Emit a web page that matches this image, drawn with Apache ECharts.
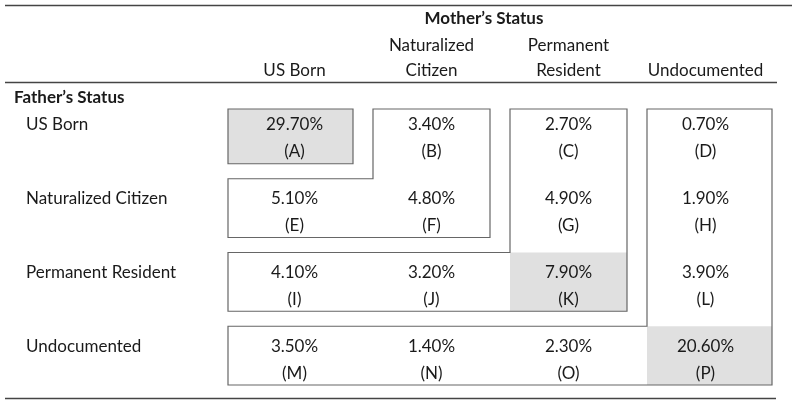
<!DOCTYPE html>
<html><head><meta charset="utf-8">
<script src="https://cdn.jsdelivr.net/npm/echarts@6/dist/echarts.min.js"></script>
<style>html,body{margin:0;padding:0;background:#fff}#c{width:800px;height:404px}</style>
</head><body><div id="c"></div>
<script>
// ---- data ----
const motherStatus = ['US Born', 'Naturalized\nCitizen', 'Permanent\nResident', 'Undocumented'];
const fatherStatus = ['US Born', 'Naturalized Citizen', 'Permanent Resident', 'Undocumented'];
const fatherUSBorn       = [29.7, 3.4, 2.7, 0.7];
const fatherNaturalized  = [5.1, 4.8, 4.9, 1.9];
const fatherPermanent    = [4.1, 3.2, 7.9, 3.9];
const fatherUndocumented = [3.5, 1.4, 2.3, 20.6];
const cellLetters = ['A','B','C','D','E','F','G','H','I','J','K','L','M','N','O','P'];
const shadedCells = ['A', 'K', 'P'];
const columnTitle = 'Mother\u2019s Status';
const rowTitle = 'Father\u2019s Status';

// ---- build series data ----
const rows = [fatherUSBorn, fatherNaturalized, fatherPermanent, fatherUndocumented];
const cells = [];
rows.forEach((vals, r) => vals.forEach((v, c) => cells.push([c, r, v, cellLetters[r * 4 + c]])));

const FONT = 'Lato, "Open Sans", sans-serif';
const FS = 17;
const TXT = '#1a1a1a';
const LINE = '#666';
const SHADE = '#e0e0e0';
const IN_OUT = 2, IN_IN = 10, IN_TOP = 8, IN_STEP = 4, IN_BOT = 11;

function renderItem(params, api) {
  const c = api.value(0), r = api.value(1);
  const size = api.size([1, 1]);
  const bw = size[0], bh = size[1];
  const ctr = api.coord([c, r]);
  const colL = k => api.coord([k, 0])[0] - bw / 2;
  const colR = k => api.coord([k, 0])[0] + bw / 2;
  const rowT = k => api.coord([0, k])[1] - bh / 2;
  const rowB = k => api.coord([0, k])[1] + bh / 2;
  const letter = cellLetters[params.dataIndex];
  const children = [];
  // region bounds for the staircase group this cell's column/row defines
  const j = Math.max(c, r);
  const xL0 = colL(0) + IN_OUT;
  const xLj = j === 0 ? xL0 : colL(j) + IN_IN;
  const xRj = colR(j) - (j === 3 ? IN_OUT : IN_IN);
  const yT = rowT(0) + IN_TOP;
  const yS = j === 0 ? yT : rowT(j) + IN_STEP;
  const yB = rowB(j) - IN_BOT;
  if (shadedCells.indexOf(letter) >= 0) {
    const x0 = c === 0 ? xL0 : colL(c) + IN_IN;
    const x1 = colR(c) - (c === 3 ? IN_OUT : IN_IN);
    const y0 = r === 0 ? yT : rowT(r) + IN_STEP;
    const y1 = rowB(r) - IN_BOT;
    children.push({ type: 'rect', shape: { x: x0, y: y0, width: x1 - x0, height: y1 - y0 },
      style: { fill: SHADE } });
  }
  if (c === r) {
    const pts = j === 0
      ? [[xL0, yT], [xRj, yT], [xRj, yB], [xL0, yB]]
      : [[xLj, yT], [xRj, yT], [xRj, yB], [xL0, yB], [xL0, yS], [xLj, yS]];
    children.push({ type: 'polygon', shape: { points: pts }, z2: 10,
      style: { fill: 'none', stroke: LINE, lineWidth: 1.2 } });
  }
  children.push({ type: 'text', x: ctr[0], y: ctr[1] - 13,
    style: { text: api.value(2).toFixed(2) + '%', textAlign: 'center', textVerticalAlign: 'middle',
      font: FS + 'px ' + FONT, fill: TXT } });
  children.push({ type: 'text', x: ctr[0], y: ctr[1] + 14,
    style: { text: '(' + letter + ')', textAlign: 'center', textVerticalAlign: 'middle',
      font: FS + 'px ' + FONT, fill: TXT } });
  return { type: 'group', children };
}

const chart = echarts.init(document.getElementById('c'), null, { renderer: 'canvas' });
chart.setOption({
  animation: false,
  backgroundColor: '#fff',
  grid: { left: 226, width: 548, top: 101, height: 295 },
  xAxis: {
    type: 'category', position: 'top', data: motherStatus,
    axisLine: { show: false }, axisTick: { show: false }, splitLine: { show: false },
    axisLabel: { fontFamily: FONT, fontSize: FS, color: TXT, lineHeight: 25, margin: 18, interval: 0 }
  },
  yAxis: {
    type: 'category', inverse: true, data: fatherStatus,
    axisLine: { show: false }, axisTick: { show: false }, splitLine: { show: false },
    axisLabel: { fontFamily: FONT, fontSize: FS, color: TXT, align: 'left', margin: 200,
      verticalAlign: 'bottom', lineHeight: 26, interval: 0 }
  },
  series: [{ type: 'custom', renderItem, data: cells, encode: { x: 0, y: 1 }, clip: false }],
  graphic: [
    { type: 'line', shape: { x1: 5, y1: 5.5, x2: 792, y2: 5.5 }, style: { stroke: '#444', lineWidth: 1.5 } },
    { type: 'line', shape: { x1: 5, y1: 82.5, x2: 777, y2: 82.5 }, style: { stroke: '#444', lineWidth: 1.5 } },
    { type: 'line', shape: { x1: 5, y1: 398.5, x2: 776, y2: 398.5 }, style: { stroke: '#444', lineWidth: 1.5 } },
    { type: 'text', x: 484, y: 19, style: { text: columnTitle, textAlign: 'center', textVerticalAlign: 'middle',
        font: 'bold ' + FS + 'px ' + FONT, fill: TXT } },
    { type: 'text', x: 14, y: 98, style: { text: rowTitle, textAlign: 'left', textVerticalAlign: 'middle',
        font: 'bold ' + FS + 'px ' + FONT, fill: TXT } }
  ]
});
</script></body></html>
